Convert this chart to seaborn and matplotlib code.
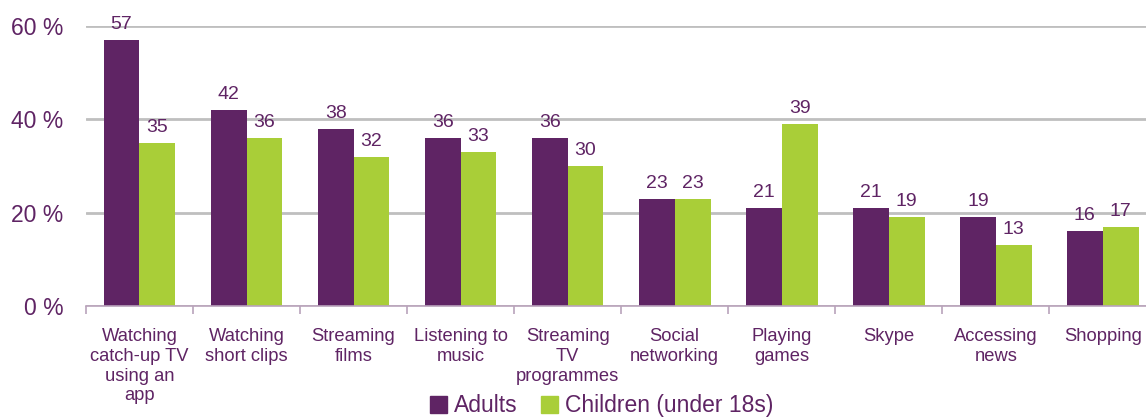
import matplotlib
matplotlib.use("Agg")
import matplotlib.pyplot as plt
import seaborn as sns
import pandas as pd
from matplotlib.ticker import FixedLocator, FuncFormatter

activities = [
    "Watching\ncatch-up TV\nusing an\napp",
    "Watching\nshort clips",
    "Streaming\nfilms",
    "Listening to\nmusic",
    "Streaming\nTV\nprogrammes",
    "Social\nnetworking",
    "Playing\ngames",
    "Skype",
    "Accessing\nnews",
    "Shopping",
]
adults = [57, 42, 38, 36, 36, 23, 21, 21, 19, 16]
children = [35, 36, 32, 33, 30, 23, 39, 19, 13, 17]
groups = ["Adults", "Children (under 18s)"]
y_ticks = [0, 20, 40, 60]

PURPLE = "#5F2464"
GREEN = "#A9CE38"
GRID = "#BFBFBF"
AXIS = "#B9A3BB"

df = pd.DataFrame({
    "activity": activities * 2,
    "group": [groups[0]] * len(activities) + [groups[1]] * len(activities),
    "value": adults + children,
})

sns.set_theme(style="white")
plt.rcParams["font.family"] = ["Liberation Sans", "DejaVu Sans"]

fig = plt.figure(figsize=(11.46, 4.17), dpi=100)
ax = fig.add_axes([0.075, 0.266, 0.934, 0.672])

sns.barplot(data=df, x="activity", y="value", hue="group", order=activities,
            hue_order=groups, palette=[PURPLE, GREEN], width=0.67, gap=0,
            saturation=1, edgecolor="none", linewidth=0, ax=ax, legend=False)

ax.set_ylim(0, 60)
ax.set_xlim(-0.5, len(activities) - 0.5)
ax.yaxis.set_major_locator(FixedLocator(y_ticks))
ax.yaxis.set_major_formatter(FuncFormatter(lambda v, p: f"{int(v)} %"))
ax.yaxis.grid(True, color=GRID, linewidth=2)
ax.set_axisbelow(True)
ax.set_xlabel("")
ax.set_ylabel("")

for s in ["top", "right", "left"]:
    ax.spines[s].set_visible(False)
ax.spines["bottom"].set_color(AXIS)
ax.spines["bottom"].set_linewidth(1.2)

ax.tick_params(axis="y", length=0, labelsize=16.5, labelcolor=PURPLE, pad=16)
ax.tick_params(axis="x", which="major", length=0, labelsize=13.2,
               labelcolor=PURPLE, pad=16)
ax.set_xticks([i - 0.5 for i in range(len(activities) + 1)], minor=True)
ax.tick_params(axis="x", which="minor", length=6, width=1.2, color=AXIS,
               direction="out", bottom=True)
for lbl in ax.get_xticklabels():
    lbl.set_linespacing(1.2)

for container in ax.containers:
    ax.bar_label(container, fmt="%d", padding=5, fontsize=14, color=PURPLE)

handles = [plt.Rectangle((0, 0), 1, 1, color=c) for c in (PURPLE, GREEN)]
fig.legend(handles, groups, loc="lower center", bbox_to_anchor=(0.525, -0.05),
           ncol=2, frameon=False, fontsize=16.5, labelcolor=PURPLE,
           handlelength=0.75, handleheight=0.75, handletextpad=0.3,
           columnspacing=1.0)

fig.savefig("out.png", dpi=100)
